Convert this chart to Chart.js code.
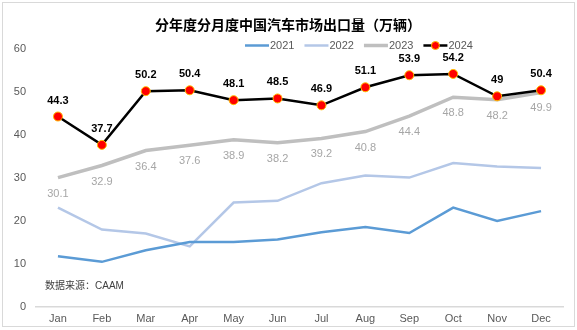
<!DOCTYPE html>
<html>
<head>
<meta charset="utf-8">
<script src="https://cdn.jsdelivr.net/npm/chart.js@4.4.1/dist/chart.umd.min.js"></script>
<style>
  html, body { margin: 0; padding: 0; background: #fff; }
  #wrap { width: 577px; height: 330px; }
</style>
</head>
<body>
<div id="wrap"><canvas id="chart" width="577" height="330"></canvas></div>
<script>
var months = ['Jan','Feb','Mar','Apr','May','Jun','Jul','Aug','Sep','Oct','Nov','Dec'];
var y2021 = [11.8, 10.5, 13.2, 15.1, 15.1, 15.7, 17.4, 18.6, 17.2, 23.1, 20.0, 22.3];
var y2022 = [23.1, 18.0, 17.1, 14.1, 24.3, 24.7, 28.8, 30.6, 30.1, 33.5, 32.7, 32.3];
var y2023 = [30.1, 32.9, 36.4, 37.6, 38.9, 38.2, 39.2, 40.8, 44.4, 48.8, 48.2, 49.9];
var y2024 = [44.3, 37.7, 50.2, 50.4, 48.1, 48.5, 46.9, 51.1, 53.9, 54.2, 49, 50.4];
var yTicks = [0, 10, 20, 30, 40, 50, 60];

var titleText = '分年度分月度中国汽车市场出口量（万辆）';
var sourceText = '数据来源：CAAM';
var FONT = '"Liberation Sans", Arial, "Noto Sans CJK SC", sans-serif';

// frame, title, legend, source note and value labels
var decor = {
  id: 'decor',
  beforeDraw: function(chart) {
    var ctx = chart.ctx;
    ctx.save();
    ctx.fillStyle = '#fff';
    ctx.fillRect(0, 0, chart.width, chart.height);
    ctx.strokeStyle = '#D9D9D9';
    ctx.lineWidth = 1;
    ctx.strokeRect(2.5, 2.5, 572, 324);
    ctx.restore();
  },
  afterDatasetsDraw: function(chart) {
    var ctx = chart.ctx;
    ctx.save();
    ctx.textAlign = 'center';
    ctx.textBaseline = 'middle';
    chart.data.datasets.forEach(function(ds, i) {
      if (!ds.valueLabel) return;
      var meta = chart.getDatasetMeta(i);
      ctx.font = ds.valueLabel.font;
      ctx.fillStyle = ds.valueLabel.color;
      meta.data.forEach(function(pt, j) {
        ctx.fillText(String(ds.data[j]), pt.x, pt.y + ds.valueLabel.dy);
      });
    });
    ctx.restore();
  },
  afterDraw: function(chart) {
    var ctx = chart.ctx;
    ctx.save();
    // title
    ctx.font = 'bold 14px "Noto Sans CJK SC", sans-serif';
    ctx.fillStyle = '#000';
    ctx.textAlign = 'center';
    ctx.textBaseline = 'middle';
    ctx.fillText(titleText, 288, 25);

    // legend, in year order
    ctx.font = '11px ' + FONT;
    ctx.textAlign = 'left';
    var x = 245, y = 45.5;
    var items = chart.data.datasets.slice().sort(function(a, b) {
      return a.label.localeCompare(b.label);
    });
    items.forEach(function(ds) {
      ctx.strokeStyle = ds.borderColor;
      ctx.lineWidth = ds.borderWidth;
      ctx.beginPath();
      ctx.moveTo(x, y);
      ctx.lineTo(x + 24, y);
      ctx.stroke();
      if (ds.pointRadius > 0) {
        ctx.beginPath();
        ctx.arc(x + 12, y, ds.pointRadius - 0.5, 0, Math.PI * 2);
        ctx.fillStyle = ds.pointBackgroundColor;
        ctx.fill();
        ctx.lineWidth = 1;
        ctx.strokeStyle = ds.pointBorderColor;
        ctx.stroke();
      }
      ctx.fillStyle = '#595959';
      ctx.fillText(ds.label, x + 25, y + 0.5);
      x += 25 + ctx.measureText(ds.label).width + 10;
    });

    // source note
    ctx.font = '10px ' + FONT;
    ctx.fillStyle = '#404040';
    ctx.fillText(sourceText, 45, 286);
    ctx.restore();
  }
};

new Chart(document.getElementById('chart'), {
  type: 'line',
  data: {
    labels: months,
    datasets: [
      {
        label: '2024', data: y2024, order: 0,
        borderColor: '#000000', borderWidth: 2.5,
        pointRadius: 4.5, pointBackgroundColor: '#FF0000', pointBorderColor: '#FFC000', pointBorderWidth: 1,
        valueLabel: { font: 'bold 11px ' + FONT, color: '#000', dy: -16 }
      },
      {
        label: '2023', data: y2023, order: 1,
        borderColor: '#BFBFBF', borderWidth: 3.5, pointRadius: 0,
        valueLabel: { font: '11px ' + FONT, color: '#A6A6A6', dy: 16 }
      },
      {
        label: '2021', data: y2021, order: 2,
        borderColor: '#5B9BD5', borderWidth: 2.5, pointRadius: 0
      },
      {
        label: '2022', data: y2022, order: 3,
        borderColor: '#B4C7E7', borderWidth: 2.5, pointRadius: 0
      }
    ]
  },
  options: {
    responsive: false,
    animation: false,
    layout: { padding: { top: 49, right: 14, bottom: 3, left: 0 } },
    elements: { line: { tension: 0 } },
    plugins: {
      legend: { display: false },
      title: { display: false },
      tooltip: { enabled: false }
    },
    scales: {
      x: {
        offset: true,
        grid: { display: false, drawTicks: false },
        border: { display: true, color: '#D9D9D9', width: 1.5 },
        ticks: { color: '#595959', padding: 5, font: { size: 11, family: FONT } },
        afterFit: function(s) { s.height = 20; }
      },
      y: {
        min: yTicks[0], max: yTicks[yTicks.length - 1],
        afterBuildTicks: function(s) { s.ticks = yTicks.map(function(v) { return { value: v }; }); },
        grid: { display: false, drawTicks: false },
        border: { display: false },
        ticks: { color: '#595959', padding: 10, font: { size: 11, family: FONT } },
        afterFit: function(s) { s.width = 36; }
      }
    }
  },
  plugins: [decor]
});
</script>
</body>
</html>
